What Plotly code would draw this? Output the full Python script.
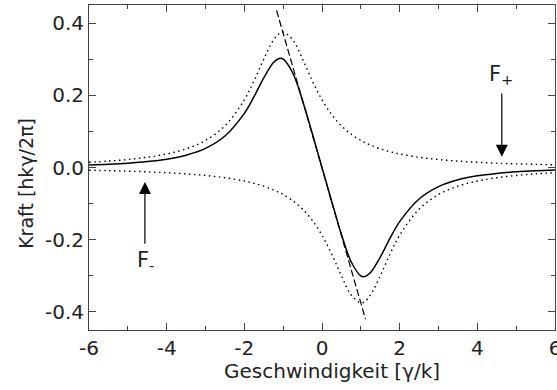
import plotly.graph_objects as go

# velocity samples [gamma/k]
v = [-6, -5.5, -5, -4.5, -4, -3.5, -3, -2.5, -2, -1.75, -1.5, -1.25, -1.1, -1, -0.75, -0.5, -0.25, 0,
     0.25, 0.5, 0.75, 1, 1.1, 1.25, 1.5, 1.75, 2, 2.5, 3, 3.5, 4, 4.5, 5, 5.5, 6]

# F+ (dotted, upper)
f_plus = [0.0144, 0.0177, 0.0221, 0.0283, 0.0375, 0.0517, 0.075, 0.1154, 0.1875, 0.24, 0.30, 0.353, 0.371, 0.375,
          0.353, 0.30, 0.24, 0.1875, 0.1463, 0.1154, 0.0923, 0.075, 0.0693, 0.0619, 0.0517, 0.0438, 0.0375,
          0.0283, 0.0221, 0.0177, 0.0144, 0.012, 0.0101, 0.0087, 0.0075]

# F- (dotted, lower)
f_minus = [-0.0075, -0.0087, -0.0101, -0.012, -0.0144, -0.0177, -0.0221, -0.0283, -0.0375, -0.0438, -0.0517,
           -0.0619, -0.0693, -0.075, -0.0923, -0.1154, -0.1463, -0.1875, -0.24, -0.30, -0.353, -0.375, -0.371,
           -0.353, -0.30, -0.24, -0.1875, -0.1154, -0.075, -0.0517, -0.0375, -0.0283, -0.0221, -0.0177, -0.0144]

# total force (solid)
f_total = [0.0069, 0.009, 0.0119, 0.0163, 0.0231, 0.0341, 0.0529, 0.0871, 0.15, 0.196, 0.248, 0.291, 0.302, 0.30,
           0.261, 0.185, 0.094, 0.0, -0.094, -0.185, -0.261, -0.30, -0.302, -0.291, -0.248, -0.196, -0.15,
           -0.0871, -0.0529, -0.0341, -0.0231, -0.0163, -0.0119, -0.009, -0.0069]

# linear approximation near v = 0 (dashed)
lin_v = [-1.17, 1.12]
lin_f = [0.435, -0.42]

x_ticks = [-6, -4, -2, 0, 2, 4, 6]
x_text = ['-6', '-4', '-2', '0', '2', '4', '6']
x_minor = [-5, -3, -1, 1, 3, 5]
y_ticks = [-0.4, -0.2, 0.0, 0.2, 0.4]
y_text = ['-0.4', '-0.2', '0.0', '0.2', '0.4']
y_minor = [-0.3, -0.1, 0.1, 0.3]

x_title = 'Geschwindigkeit [γ/k]'
y_title = 'Kraft [hkγ/2π]'

FONT = 'DejaVu Sans'
AXC = '#444444'
TXT = '#222222'

fig = go.Figure()
fig.add_trace(go.Scatter(x=v, y=f_plus, mode='lines', line=dict(color='black', width=1.4, dash='1.5px,3.5px', shape='spline')))
fig.add_trace(go.Scatter(x=v, y=f_minus, mode='lines', line=dict(color='black', width=1.4, dash='1.5px,3.5px', shape='spline')))
fig.add_trace(go.Scatter(x=v, y=f_total, mode='lines', line=dict(color='black', width=1.5, shape='spline')))
fig.add_trace(go.Scatter(x=lin_v, y=lin_f, mode='lines', line=dict(color='black', width=1.2, dash='7px,3px')))

# arrows
fig.add_annotation(x=4.63, y=0.03, ax=4.63, ay=0.209, xref='x', yref='y', axref='x', ayref='y',
                   text='', showarrow=True, arrowhead=2, arrowsize=2, arrowwidth=1.2, arrowcolor='black')
fig.add_annotation(x=-4.56, y=-0.04, ax=-4.56, ay=-0.215, xref='x', yref='y', axref='x', ayref='y',
                   text='', showarrow=True, arrowhead=2, arrowsize=2, arrowwidth=1.2, arrowcolor='black')
fig.add_annotation(x=4.6, y=0.257, xref='x', yref='y', text='F<sub>+</sub>', showarrow=False,
                   font=dict(family=FONT, size=21, color=TXT))
fig.add_annotation(x=-4.54, y=-0.259, xref='x', yref='y', text='F<sub>-</sub>', showarrow=False,
                   font=dict(family=FONT, size=21, color=TXT))

# axis titles
fig.add_annotation(x=0.521, y=-0.126, xref='paper', yref='paper', text=x_title, showarrow=False,
                   xanchor='center', yanchor='middle', font=dict(family=FONT, size=20, color=TXT))
fig.add_annotation(x=-0.135, y=0.45, xref='paper', yref='paper', text=y_title, showarrow=False,
                   textangle=-90, xanchor='center', yanchor='middle', font=dict(family=FONT, size=19, color=TXT))

axis_common = dict(showline=True, linecolor=AXC, linewidth=1, mirror='allticks', ticks='inside',
                   ticklen=7, tickcolor=AXC, tickwidth=1, showgrid=False, zeroline=False,
                   automargin=False, ticklabeloverflow='allow',
                   tickfont=dict(family=FONT, size=20, color=TXT))

fig.update_xaxes(range=[-6, 6], tickmode='array', tickvals=x_ticks, ticktext=x_text,
                 minor=dict(tickmode='array', tickvals=x_minor, ticks='inside', ticklen=4, tickcolor=AXC),
                 **axis_common)
fig.update_yaxes(range=[-0.45, 0.45], tickmode='array', tickvals=y_ticks, ticktext=y_text,
                 minor=dict(tickmode='array', tickvals=y_minor, ticks='inside', ticklen=4, tickcolor=AXC),
                 **axis_common)

fig.update_layout(width=557, height=390, margin=dict(l=89, r=2, t=5, b=60),
                  plot_bgcolor='white', paper_bgcolor='white', showlegend=False)

fig.write_html('out.html', config={'displayModeBar': False},
               post_script="document.body.style.margin='0';document.body.style.padding='0';")
